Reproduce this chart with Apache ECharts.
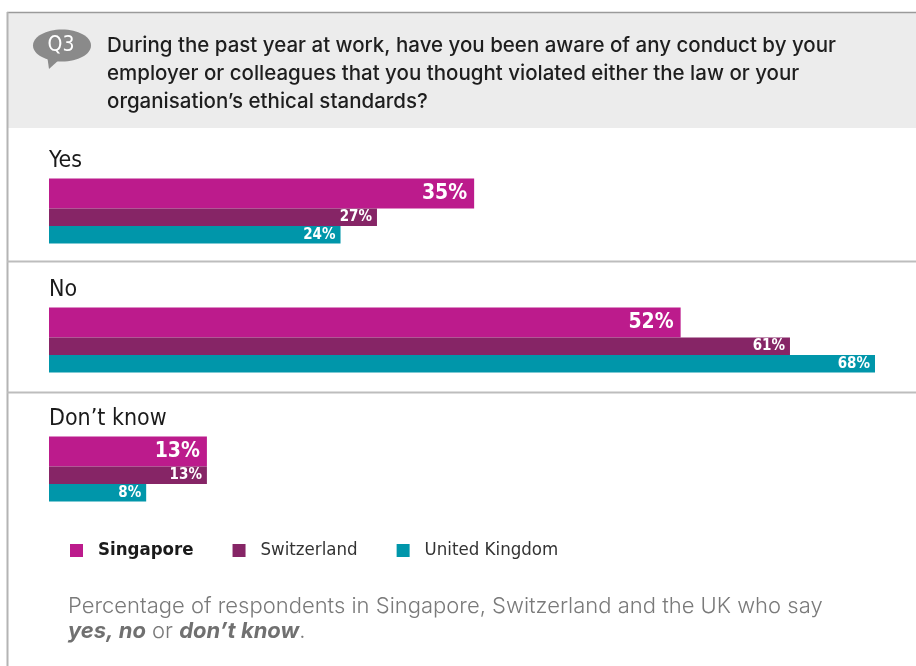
<!DOCTYPE html>
<html>
<head>
<meta charset="utf-8">
<style>
  html, body { margin: 0; padding: 0; background: #ffffff; }
  #chart { width: 916px; height: 666px; }
</style>
<script src="https://cdn.jsdelivr.net/npm/echarts@6/dist/echarts.min.js"></script>
</head>
<body>
<div id="chart"></div>
<script>
// Survey answers (percent of respondents)
const answers = ['Yes', 'No', 'Don\u2019t know'];
const countries = ['Singapore', 'Switzerland', 'United Kingdom'];
const singapore = [35, 52, 13];
const switzerland = [27, 61, 13];
const unitedKingdom = [24, 68, 8];

const question = [
  'During the past year at work, have you been aware of any conduct by your',
  'employer or colleagues that you thought violated either the law or your',
  'organisation\u2019s ethical standards?'
];

const colors = ['#bc1b8c', '#862566', '#0096aa'];
const narrow = '"DejaVu Sans Condensed", "Liberation Sans", sans-serif';
const sans = 'Inter, "Liberation Sans", Arial, sans-serif';

const chart = echarts.init(document.getElementById('chart'), null, { renderer: 'canvas' });

function barSeries(name, values, idx, height, labelSize) {
  return {
    name: name,
    type: 'bar',
    data: values,
    barWidth: height,
    barGap: '0%',
    itemStyle: { color: colors[idx] },
    label: {
      show: true,
      position: 'insideRight',
      distance: idx === 0 ? 7 : 5,
      formatter: '{c}%',
      color: '#ffffff',
      fontFamily: narrow,
      fontWeight: 'bold',
      fontSize: labelSize
    },
    emphasis: { disabled: true },
    animation: false
  };
}

const option = {
  animation: false,
  grid: { left: 49, right: 41, top: 146.5, bottom: 132.5 },
  xAxis: {
    type: 'value', min: 0, max: 68,
    show: false
  },
  yAxis: {
    type: 'category',
    data: answers,
    inverse: true,
    axisLine: { show: false },
    axisTick: { show: false },
    splitLine: { show: false },
    axisLabel: {
      inside: true,
      margin: 0,
      align: 'left',
      verticalAlign: 'bottom',
      padding: [0, 0, 38, 0],
      color: '#1a1a1a',
      fontFamily: narrow,
      fontSize: 23
    }
  },
  legend: {
    left: 65,
    top: 536,
    itemWidth: 13,
    itemHeight: 13,
    itemGap: 39,
    icon: 'rect',
    selectedMode: false,
    data: [
      { name: countries[0], textStyle: { fontWeight: 'bold', color: '#1a1a1a' } },
      { name: countries[1] },
      { name: countries[2] }
    ],
    textStyle: {
      fontFamily: narrow,
      fontSize: 18.5,
      color: '#333333',
      padding: [0, 0, 0, 10]
    }
  },
  series: [
    barSeries(countries[0], singapore, 0, 30, 21),
    barSeries(countries[1], switzerland, 1, 17.5, 15),
    barSeries(countries[2], unitedKingdom, 2, 17.5, 15)
  ],
  graphic: [
    // question header panel
    { type: 'rect', silent: true, z: -10, shape: { x: 7, y: 12, width: 909, height: 116 },
      style: { fill: '#ececec' } },
    { type: 'line', silent: true, shape: { x1: 7, y1: 12.5, x2: 916, y2: 12.5 },
      style: { stroke: '#9a9a9a', lineWidth: 1.5 } },
    { type: 'line', silent: true, shape: { x1: 7.5, y1: 12, x2: 7.5, y2: 666 },
      style: { stroke: '#b4b4b4', lineWidth: 2 } },
    // section separators
    { type: 'line', silent: true, shape: { x1: 7, y1: 261.5, x2: 916, y2: 261.5 },
      style: { stroke: '#bdbdbd', lineWidth: 2 } },
    { type: 'line', silent: true, shape: { x1: 7, y1: 392.5, x2: 916, y2: 392.5 },
      style: { stroke: '#bdbdbd', lineWidth: 2 } },
    // Q3 speech bubble
    { type: 'ellipse', silent: true, shape: { cx: 62, cy: 45.5, rx: 29, ry: 16 },
      style: { fill: '#8a8a8a' } },
    { type: 'polygon', silent: true, shape: { points: [[47, 55], [60, 59], [49, 69]] },
      style: { fill: '#8a8a8a' } },
    { type: 'text', silent: true, style: { x: 61, y: 46, text: 'Q3', fill: '#ffffff',
      font: '21px ' + narrow, align: 'center', verticalAlign: 'middle' } },
    // question text
    { type: 'text', silent: true, style: { x: 107, y: 46, text: question[0], fill: '#1e1e1e',
      font: '500 20.5px ' + sans, verticalAlign: 'middle' } },
    { type: 'text', silent: true, style: { x: 107, y: 74, text: question[1], fill: '#1e1e1e',
      font: '500 20.5px ' + sans, verticalAlign: 'middle' } },
    { type: 'text', silent: true, style: { x: 107, y: 102, text: question[2], fill: '#1e1e1e',
      font: '500 20.5px ' + sans, verticalAlign: 'middle' } },
    // footnote
    { type: 'text', silent: true, style: { x: 68, y: 606, fill: '#7a7a7a',
      text: 'Percentage of respondents in Singapore, Switzerland and the UK who say',
      font: '300 22px ' + sans, verticalAlign: 'middle' } },
    { type: 'text', silent: true, style: { x: 68, y: 631, verticalAlign: 'middle',
      text: '{b|yes, no}{n| or }{b|don\u2019t know}{n|.}',
      rich: {
        b: { font: 'italic bold 22px ' + sans, fill: '#707070' },
        n: { font: '300 22px ' + sans, fill: '#7a7a7a' }
      } } }
  ]
};

chart.setOption(option);
</script>
</body>
</html>
